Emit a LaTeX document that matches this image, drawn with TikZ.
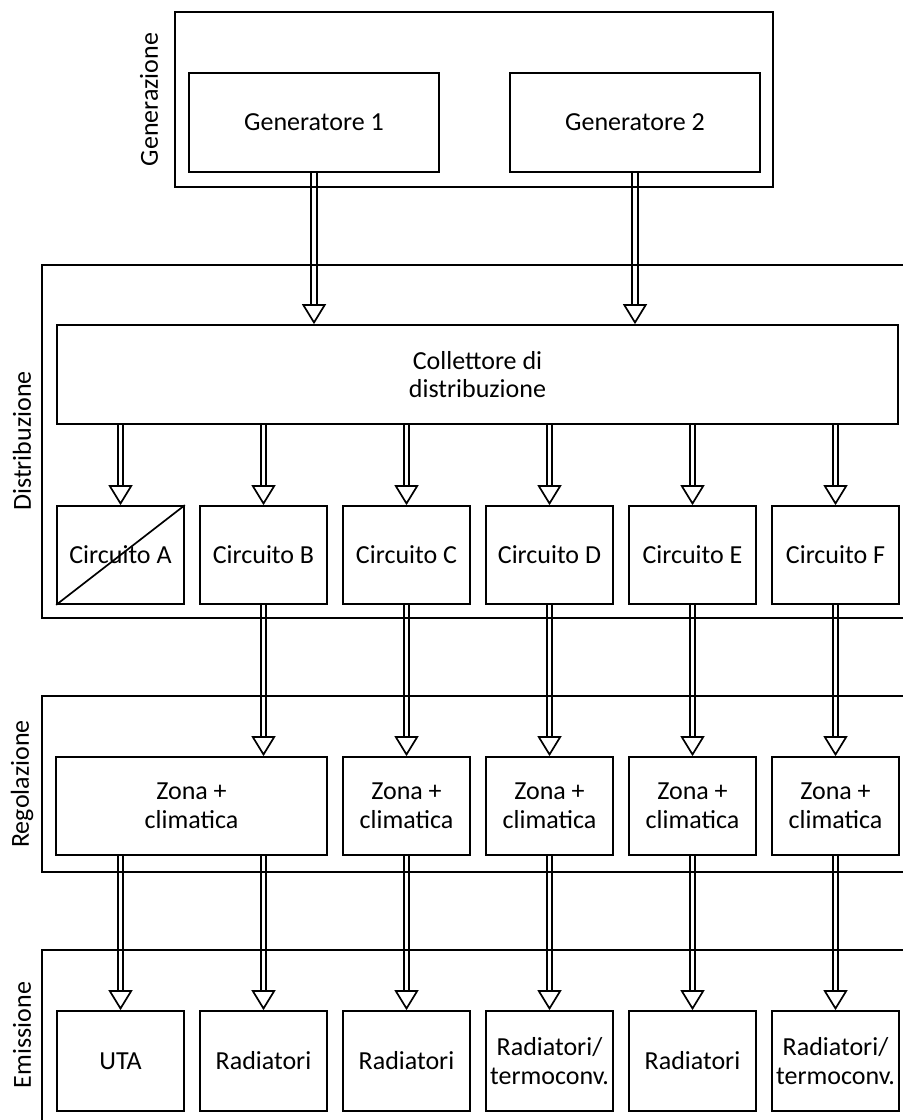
\documentclass[tikz,border=0pt]{standalone}
\usepackage{fontspec}
\setmainfont{Carlito}
\usetikzlibrary{arrows.meta,backgrounds}

\tikzset{
  lw/.style={line width=0.85pt},
  box/.style n args={2}{lw, draw, fill=white, inner sep=0pt, align=center,
    minimum width=#1*0.5pt, minimum height=#2*0.5pt,
    font=\fontsize{13}{14.3}\selectfont},
  stagelabel/.style={rotate=90, font=\fontsize{13}{14.3}\selectfont},
  flow/.style={line width=0.85pt, double=white, double distance=1.9pt,
    -{Triangle[open, width=12pt, length=10pt, line width=0.85pt]}},
}

\begin{document}
\begin{tikzpicture}[x=0.5pt, y=-0.5pt]
\clip (0,0) rectangle (903,1120);

% stage frames
\draw[lw] (175,12) rectangle (773,187);
\draw[lw] (42,265) rectangle (920,618);
\draw[lw] (42,696) rectangle (920,872);
\draw[lw] (42,950) rectangle (920,1140);

\node[stagelabel] (lgen) at (149,99.5) {Generazione};
\node[stagelabel] (ldis) at (22,441) {Distribuzione};
\node[stagelabel] (lreg) at (22,784) {Regolazione};
\node[stagelabel] (lemi) at (22,1035) {Emissione};

% generation
\node[box={250}{99}] (g1) at (314,122.5) {Generatore 1};
\node[box={250}{99}] (g2) at (635,122.5) {Generatore 2};

% distribution
\node[box={841}{99}] (coll) at (477.5,374.5) {Collettore di\\distribuzione};
\node[box={127}{98}] (ca) at (120.5,555) {Circuito A};
\node[box={127}{98}] (cb) at (263.5,555) {Circuito B};
\node[box={127}{98}] (cc) at (406.5,555) {Circuito C};
\node[box={127}{98}] (cd) at (549.5,555) {Circuito D};
\node[box={127}{98}] (ce) at (692.5,555) {Circuito E};
\node[box={127}{98}] (cf) at (835.5,555) {Circuito F};
\draw[lw] (ca.south west) -- (ca.north east);

% regulation
\node[box={271}{98}] (z1) at (191.5,806) {Zona +\\climatica};
\node[box={127}{98}] (z2) at (406.5,806) {Zona +\\climatica};
\node[box={127}{98}] (z3) at (549.5,806) {Zona +\\climatica};
\node[box={127}{98}] (z4) at (692.5,806) {Zona +\\climatica};
\node[box={127}{98}] (z5) at (835.5,806) {Zona +\\climatica};

% emission
\node[box={127}{100}] (e1) at (120.5,1061) {UTA};
\node[box={127}{100}] (e2) at (263.5,1061) {Radiatori};
\node[box={127}{100}] (e3) at (406.5,1061) {Radiatori};
\node[box={127}{100}] (e4) at (549.5,1061) {Radiatori/\\termoconv.};
\node[box={127}{100}] (e5) at (692.5,1061) {Radiatori};
\node[box={127}{100}] (e6) at (835.5,1061) {Radiatori/\\termoconv.};

% flows
\begin{scope}[on background layer]
\draw[flow] (g1.south) -- (g1.south |- coll.north);
\draw[flow] (g2.south) -- (g2.south |- coll.north);
\foreach \c in {ca,cb,cc,cd,ce,cf}
  \draw[flow] (\c.north |- coll.south) -- (\c.north);
\draw[flow] (cb.south) -- (cb.south |- z1.north);
\draw[flow] (cc.south) -- (z2.north);
\draw[flow] (cd.south) -- (z3.north);
\draw[flow] (ce.south) -- (z4.north);
\draw[flow] (cf.south) -- (z5.north);
\draw[flow] (e1.north |- z1.south) -- (e1.north);
\draw[flow] (e2.north |- z1.south) -- (e2.north);
\draw[flow] (z2.south) -- (e3.north);
\draw[flow] (z3.south) -- (e4.north);
\draw[flow] (z4.south) -- (e5.north);
\draw[flow] (z5.south) -- (e6.north);
\end{scope}
\end{tikzpicture}
\end{document}
